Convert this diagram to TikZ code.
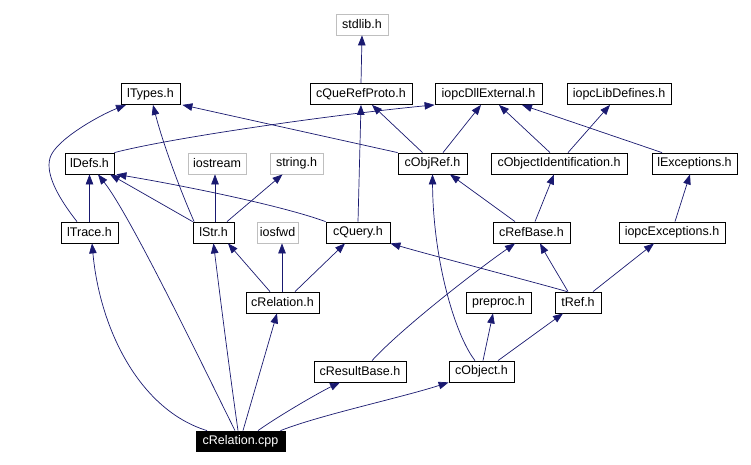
\documentclass[tikz,border=0pt]{standalone}
\usepackage{fontspec}
\setmainfont{Liberation Sans}
\usetikzlibrary{arrows.meta}
\definecolor{edgeblue}{RGB}{25,25,112}
\definecolor{boxgray}{RGB}{191,191,191}
\begin{document}
\begin{tikzpicture}[x=1pt,y=-1pt,
  box/.style={draw=black, line width=0.8pt, minimum height=21pt, inner sep=0pt, font=\fontsize{12.5}{14}\selectfont, text=black},
  graybox/.style={box, draw=boxgray},
  rootbox/.style={box, fill=black, text=white, minimum height=20pt},
  edge/.style={draw=edgeblue, line width=0.7pt, -{Triangle[length=10pt,width=7.5pt]}}
]
\useasboundingbox[fill=white] (0,0) rectangle (751,465);

% row 0
\node[graybox, minimum width=52pt] (stdlib) at (362,24.5) {stdlib.h};
% row 1
\node[box, minimum width=59pt] (lTypes) at (150.5,94) {lTypes.h};
\node[box, minimum width=102pt] (cQueRefProto) at (361,94) {cQueRefProto.h};
\node[box, minimum width=107pt] (iopcDll) at (488.5,94) {iopcDllExternal.h};
\node[box, minimum width=104pt] (iopcLib) at (619,94) {iopcLibDefines.h};
% row 2
\node[box, minimum width=49pt] (lDefs) at (89.5,163.5) {lDefs.h};
\node[graybox, minimum width=58pt] (iostream) at (217,163.5) {iostream};
\node[graybox, minimum width=53pt] (string) at (296.5,163.5) {string.h};
\node[box, minimum width=69pt] (cObjRef) at (432.5,163.5) {cObjRef.h};
\node[box, minimum width=136pt] (cObjId) at (559,163.5) {cObjectIdentification.h};
\node[box, minimum width=85pt] (lExc) at (694.5,163.5) {lExceptions.h};
% row 3
\node[box, minimum width=57pt] (lTrace) at (89.5,232.5) {lTrace.h};
\node[box, minimum width=41pt] (lStr) at (213.5,232.5) {lStr.h};
\node[graybox, minimum width=41pt] (iosfwd) at (277.5,232.5) {iosfwd};
\node[box, minimum width=64pt] (cQuery) at (358,232.5) {cQuery.h};
\node[box, minimum width=77pt] (cRefBase) at (531.5,232.5) {cRefBase.h};
\node[box, minimum width=106pt] (iopcExc) at (672,232.5) {iopcExceptions.h};
% row 4
\node[box, minimum width=73pt] (cRelH) at (282.5,302.5) {cRelation.h};
\node[box, minimum width=65pt] (preproc) at (498.5,302.5) {preproc.h};
\node[box, minimum width=46pt] (tRef) at (578,302.5) {tRef.h};
% row 5
\node[box, minimum width=92pt] (cResultBase) at (360,371.5) {cResultBase.h};
\node[box, minimum width=65pt] (cObject) at (481.5,371.5) {cObject.h};
% row 6
\node[rootbox, minimum width=89pt] (cpp) at (240.5,441) {cRelation.cpp};

% edges
\draw[edge] (cQueRefProto.north) -- (stdlib.south);
\draw[edge] (lDefs.north east) .. controls (170,138) and (330,115) .. (iopcDll.south west);
\draw[edge] (cObjRef.north west) -- ([xshift=2pt]lTypes.south east);
\draw[edge] ([xshift=-10pt]cObjRef.north) -- ([xshift=11pt]cQueRefProto.south);
\draw[edge] ([xshift=10.5pt]cObjRef.north) -- ([xshift=-7.5pt]iopcDll.south);
\draw[edge] ([xshift=-9pt]cObjId.north) -- ([xshift=10.5pt]iopcDll.south);
\draw[edge] ([xshift=9pt]cObjId.north) -- ([xshift=-9pt]iopcLib.south);
\draw[edge] ([xshift=-32.5pt]lExc.north) -- ([xshift=33.5pt]iopcDll.south);
\draw[edge] ([xshift=-12.5pt]lTrace.north) .. controls (60,200) and (45,175) .. (50,158)
  .. controls (55,140) and (100,115) .. ([xshift=-24.5pt]lTypes.south);
\draw[edge] ([xshift=1.5pt]lStr.north west) .. controls (178,185) and (162,140) .. ([xshift=2.5pt]lTypes.south);
\draw[edge] (cQuery.north) -- (cQueRefProto.south);
\draw[edge] (lTrace.north) -- (lDefs.south);
\draw[edge] (lStr.north west) -- ([xshift=20.5pt]lDefs.south);
\draw[edge] (cQuery.north west) .. controls (280,205) and (180,185) .. ([xshift=2pt]lDefs.south east);
\draw[edge] ([xshift=1.5pt]lStr.north) -- ([xshift=-2pt]iostream.south);
\draw[edge] ([xshift=13.5pt]lStr.north) -- ([xshift=-14pt]string.south);
\draw[edge] ([xshift=-12.5pt]cRelH.north) -- ([xshift=14.5pt]lStr.south);
\draw[edge] ([xshift=-0.5pt]cRelH.north) -- ([xshift=4.5pt]iosfwd.south);
\draw[edge] ([xshift=12.5pt]cRelH.north) -- ([xshift=-13pt]cQuery.south);
\draw[edge] ([xshift=-16.5pt]cRefBase.north) -- ([xshift=17.5pt]cObjRef.south);
\draw[edge] ([xshift=3.5pt]cRefBase.north) -- ([xshift=-5pt]cObjId.south);
\draw[edge] ([xshift=3pt]iopcExc.north) -- ([xshift=-4.5pt]lExc.south);
\draw[edge] ([xshift=-11pt]tRef.north) .. controls (545,285) and (430,255) .. (cQuery.south east);
\draw[edge] ([xshift=-10pt]tRef.north) .. controls (560,278) and (548,258) .. ([xshift=8.5pt]cRefBase.south);
\draw[edge] ([xshift=15pt]tRef.north) -- ([xshift=-18pt]iopcExc.south);
\draw[edge] ([xshift=12pt]cResultBase.north) .. controls (400,330) and (470,275) .. ([xshift=-16.5pt]cRefBase.south);
\draw[edge] ([xshift=-6.5pt]cObject.north) .. controls (455,335) and (433,260) .. (cObjRef.south);
\draw[edge] ([xshift=1.5pt]cObject.north) -- ([xshift=-5.5pt]preproc.south);
\draw[edge] ([xshift=16.5pt]cObject.north) -- ([xshift=-15pt]tRef.south);
\draw[edge] ([xshift=-33.5pt]cpp.north) .. controls (140,410) and (100,330) .. ([xshift=2.5pt]lTrace.south);
\draw[edge] ([xshift=-5.5pt]cpp.north) .. controls (200,360) and (130,215) .. ([xshift=8.5pt]lDefs.south);
\draw[edge] ([xshift=-2.5pt]cpp.north) .. controls (228,360) and (218,280) .. (lStr.south);
\draw[edge] ([xshift=2.5pt]cpp.north) -- ([xshift=-5.5pt]cRelH.south);
\draw[edge] ([xshift=17.5pt]cpp.north) .. controls (280,415) and (320,392) .. ([xshift=-20pt]cResultBase.south);
\draw[edge] ([xshift=40pt]cpp.north) .. controls (320,415) and (400,398) .. (cObject.south west);
\end{tikzpicture}
\end{document}
